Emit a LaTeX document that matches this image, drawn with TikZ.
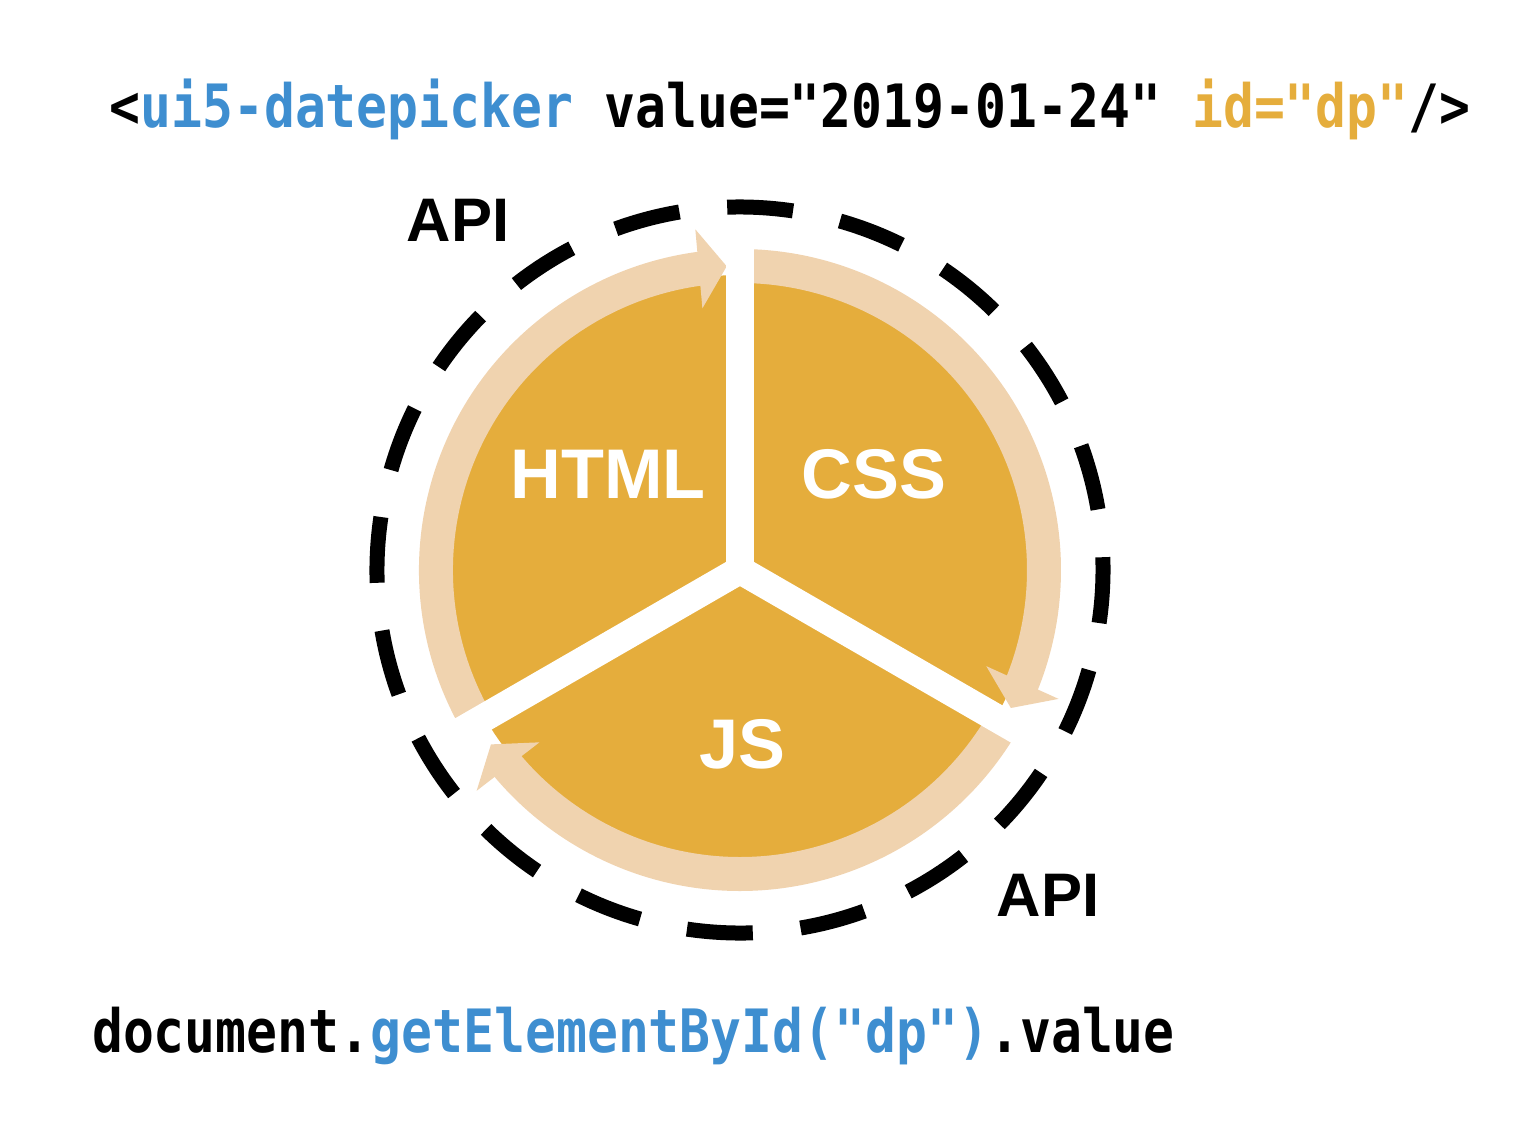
\documentclass[tikz,border=0pt]{standalone}
\usepackage{fontspec}
\newfontfamily\codefont[FakeStretch=0.86]{DejaVu Sans Mono}
\newfontfamily\labelfont{Liberation Sans}
\usetikzlibrary{arrows.meta,bending}
\definecolor{ui5orange}{HTML}{E5AD3C}
\definecolor{ui5light}{HTML}{F0D3AF}
\definecolor{ui5blue}{HTML}{3E8ED0}

\begin{document}
\begin{tikzpicture}[
    part/.style={font=\labelfont\bfseries\fontsize{20}{24}\selectfont, text=white, inner sep=0pt},
    api/.style={font=\labelfont\bfseries\fontsize{17.5}{21}\selectfont, inner sep=0pt},
    code/.style={font=\codefont\bfseries\fontsize{17}{20}\selectfont, inner sep=0pt, anchor=base},
    flow/.style={ui5light, line width=0.34cm, -{Triangle[width=0.78cm, length=0.28cm, flex]}},
    cut/.style={white, line width=0.28cm},
    border/.style={line width=0.15cm, dash pattern=on 0.66cm off 0.4805cm}
]
\useasboundingbox (-7.40,-5.58) rectangle (7.90,5.70);

% Kreis mit Pfeilen
\coordinate (hub) at (0,0);
\fill[ui5orange] (hub) circle (2.95);
\draw[flow] (210:3.04) arc[start angle=210, end angle=92.5, radius=3.04];
\draw[flow] (88:3.04) arc[start angle=88, end angle=-27, radius=3.04];
\draw[flow] (-30:3.04) arc[start angle=-30, end angle=-145, radius=3.04];

% Trennlinien
\draw[cut] (210:3.25) -- (hub) -- (330:3.25);
\draw[cut] (hub) -- (90:3.25);

% API-Grenze
\draw[border] (81.6:3.63) arc[start angle=81.6, delta angle=360, radius=3.63];

% Beschriftungen
\node[part] (html) at (-1.32,0.96) {HTML};
\node[part] (css) at (1.34,0.96) {CSS};
\node[part] (js) at (0.02,-1.74) {JS};
\node[api] (apitop) at (-2.82,3.50) {API};
\node[api] (apibottom) at (3.08,-3.25) {API};

% Code
\node[code] (markup) at (0.50,4.43) {<\textcolor{ui5blue}{ui5-datepicker} value="2019-01-24" \textcolor{ui5orange}{id="dp"}/>};
\node[code] (access) at (-1.065,-4.82) {document.\textcolor{ui5blue}{getElementById("dp")}.value};

\end{tikzpicture}
\end{document}
